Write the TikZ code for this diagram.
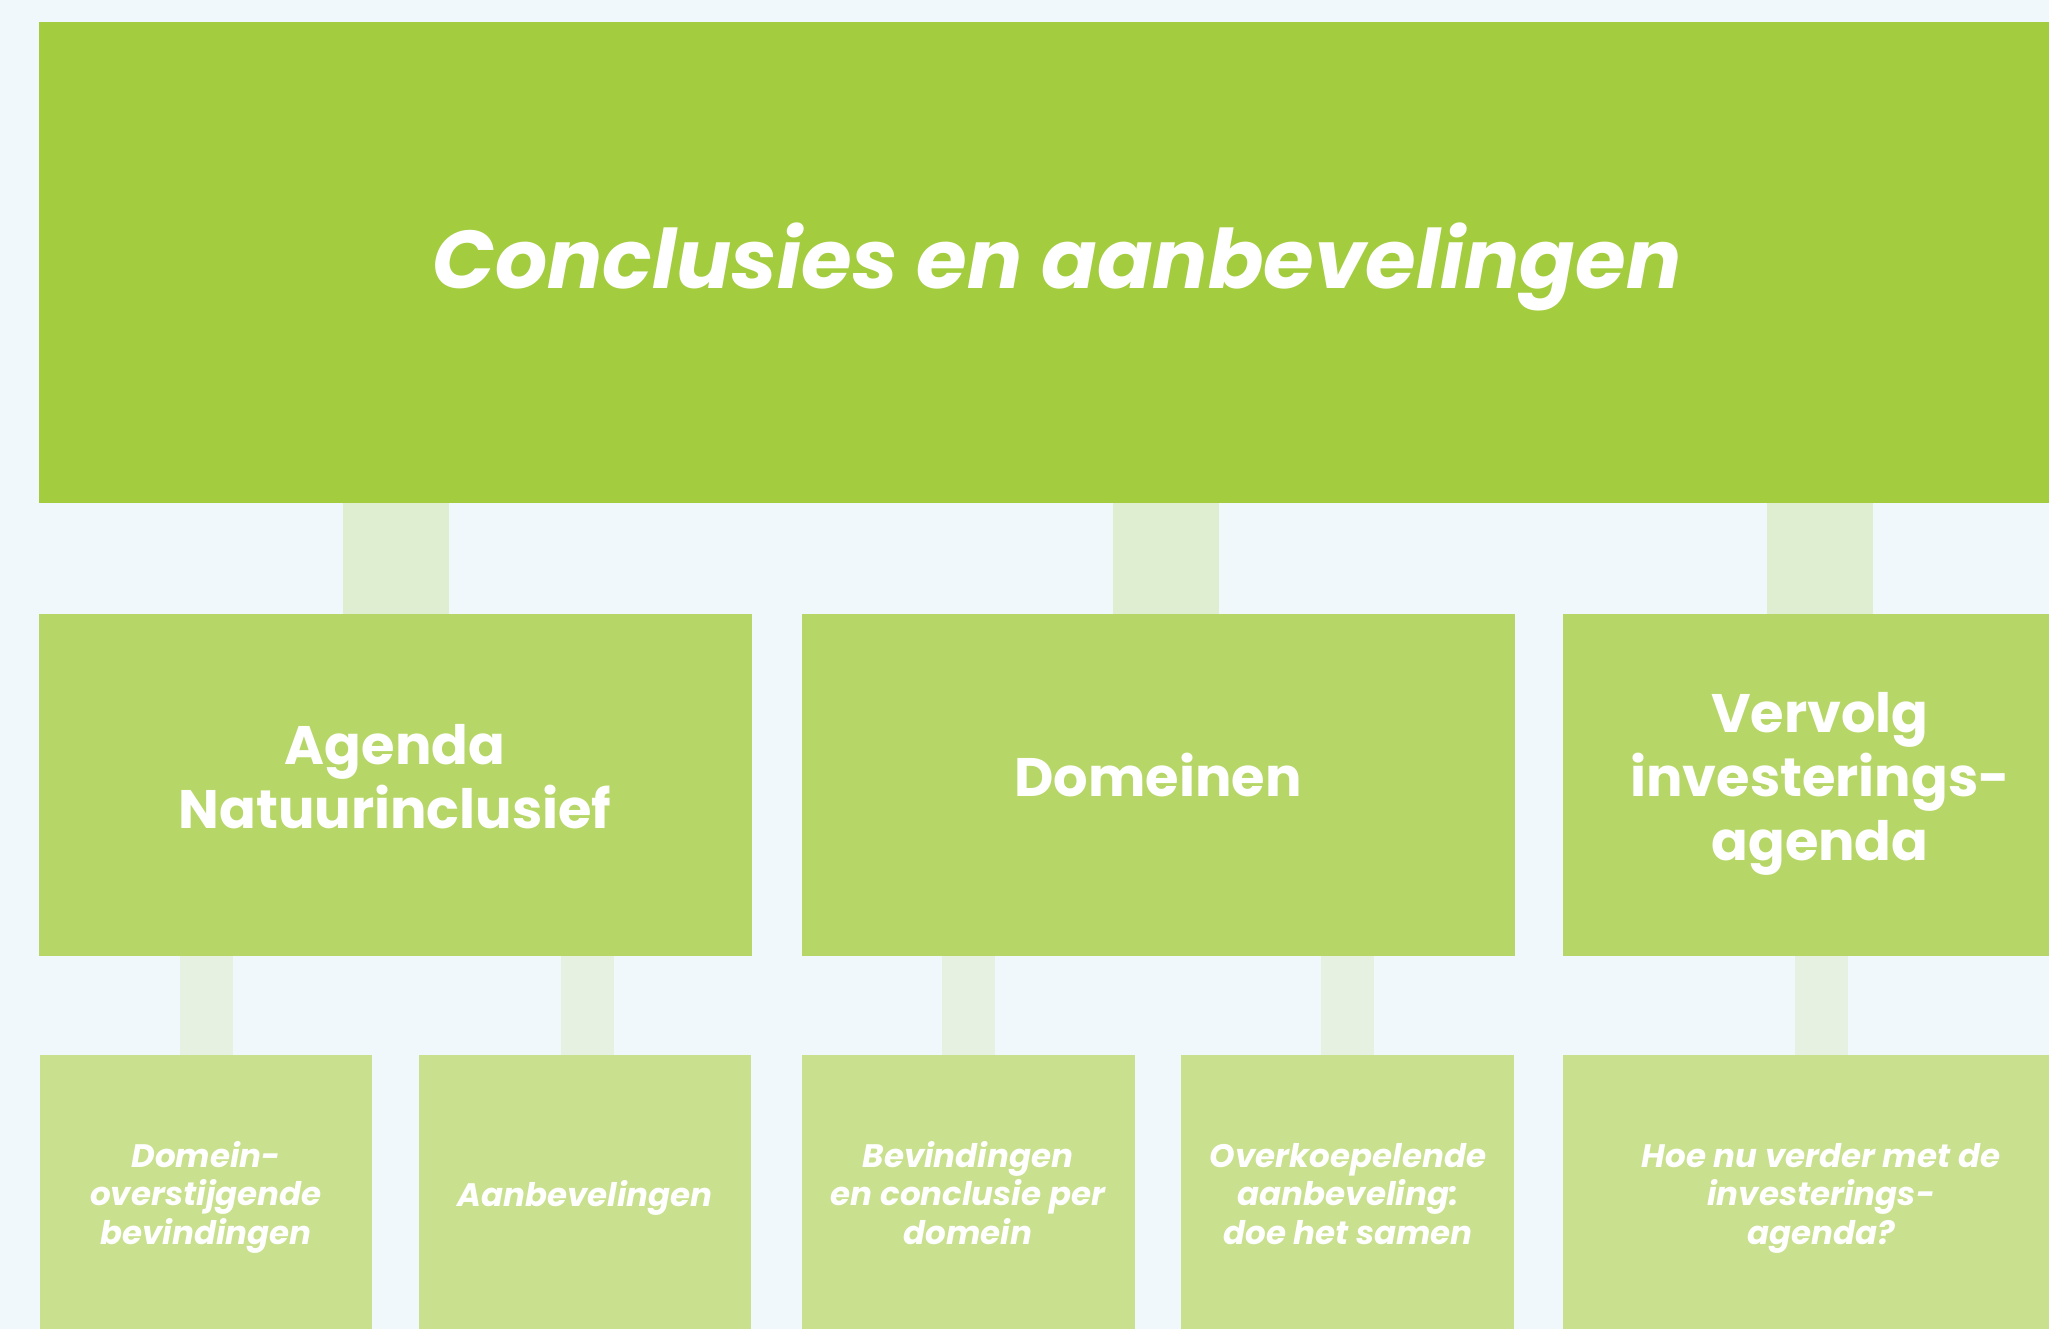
\documentclass[tikz,border=0pt]{standalone}
\usepackage{fontspec}
\setmainfont{Poppins}
\definecolor{bgc}{HTML}{F0F8FB}
\definecolor{topc}{HTML}{A3CD3F}
\definecolor{midc}{HTML}{B6D767}
\definecolor{lowc}{HTML}{C9E08E}
\definecolor{conna}{HTML}{DFEDD1}
\definecolor{connb}{HTML}{E6F1E1}
\begin{document}
\begin{tikzpicture}[x=0.5pt,y=-0.5pt,
  boxbase/.style={anchor=north west,inner sep=0pt,outer sep=0pt,draw=none},
  topbox/.style={boxbase,fill=topc,minimum width=1005pt,minimum height=240.5pt},
  midbox/.style={boxbase,fill=midc,minimum height=171pt},
  lowbox/.style={boxbase,fill=lowc,minimum height=137pt},
  titletext/.style={anchor=base,text=white,inner sep=0pt,font=\fontsize{41}{50}\selectfont\bfseries\itshape},
  midtext/.style={anchor=base,text=white,inner sep=0pt,align=center,font=\fontsize{27.1}{32}\selectfont\bfseries},
  lowtext/.style={anchor=base,text=white,inner sep=0pt,align=center,font=\fontsize{16.25}{19.2}\selectfont\bfseries\itshape},
  conone/.style={draw=conna,line width=53pt},
  contwo/.style={draw=connb,line width=26.5pt}]
\fill[bgc] (0,0) rectangle (2049,1329);
\useasboundingbox (0,0) rectangle (2049,1329);
% boxes
\node[topbox] (top) at (39,22) {};
\node[midbox,minimum width=356.5pt] (A) at (39,614) {};
\node[midbox,minimum width=356.5pt] (D) at (802,614) {};
\node[midbox,minimum width=243pt] (V) at (1563,614) {};
\node[lowbox,minimum width=166pt] (b1) at (40,1055) {};
\node[lowbox,minimum width=166pt] (b2) at (419,1055) {};
\node[lowbox,minimum width=166.5pt] (b3) at (802,1055) {};
\node[lowbox,minimum width=166.5pt] (b4) at (1181,1055) {};
\node[lowbox,minimum width=243pt] (b5) at (1563,1055) {};
% texts
\node[titletext] (ttl) at (1057,288) {Conclusies en aanbevelingen};
\node[midtext] (ta) at (395,828) {Agenda\\Natuurinclusief};
\node[midtext] (td) at (1158,796) {Domeinen};
\node[midtext] (tv) at (1820,860) {Vervolg\\investerings-\\agenda};
\node[lowtext] (t1) at (206,1244) {Domein-\\overstijgende\\bevindingen};
\node[lowtext] (t2) at (585,1206) {Aanbevelingen};
\node[lowtext] (t3) at (968,1244) {Bevindingen\\en conclusie per\\domein};
\node[lowtext] (t4) at (1348,1244) {Overkoepelende\\aanbeveling:\\doe het samen};
\node[lowtext] (t5) at (1821,1244) {Hoe nu verder met de\\investerings-\\agenda?};
% connectors level 1
\draw[conone] (A.north) -- (A.north |- top.south);
\draw[conone] ([xshift=3.5pt]D.north) -- ([xshift=3.5pt]D.north |- top.south);
\draw[conone] (tv |- V.north) -- (tv |- top.south);
% connectors level 2
\draw[contwo] (b1.north) -- (b1.north |- A.south);
\draw[contwo] ([xshift=1.25pt]b2.north) -- ([xshift=1.25pt]b2.north |- A.south);
\draw[contwo] (b3.north) -- (b3.north |- D.south);
\draw[contwo] (b4.north) -- (b4.north |- D.south);
\draw[contwo] (t5 |- b5.north) -- (t5 |- V.south);
\end{tikzpicture}
\end{document}
